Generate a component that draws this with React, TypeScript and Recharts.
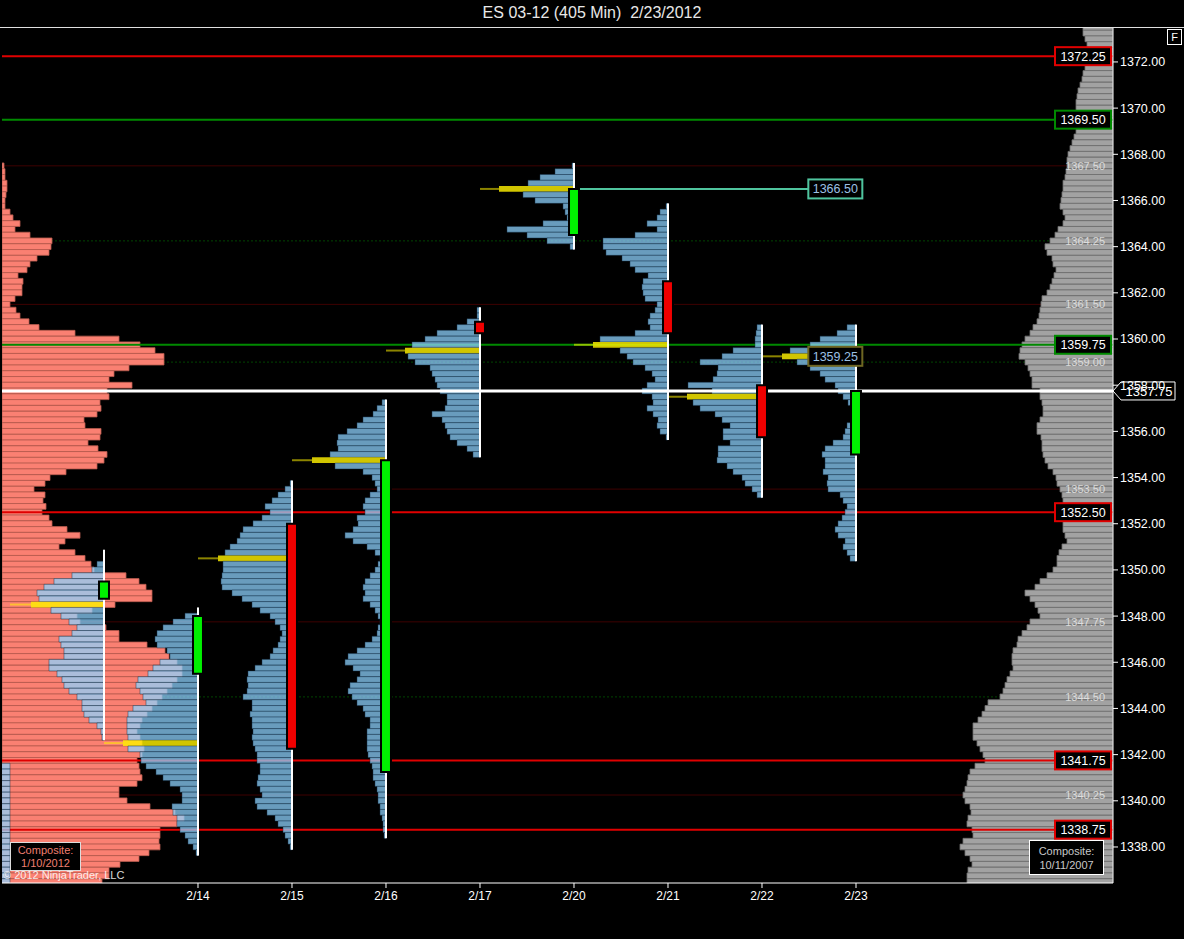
import React from "react";
import {
  ComposedChart,
  Line,
  XAxis,
  YAxis,
  ReferenceArea,
  ReferenceLine,
  ReferenceDot,
} from "recharts";

// ---- axes ----
const dayLabels = ["2/14", "2/15", "2/16", "2/17", "2/20", "2/21", "2/22", "2/23"];
const dayTicks = [0, 1, 2, 3, 4, 5, 6, 7];
const priceTicks = [1338, 1340, 1342, 1344, 1346, 1348, 1350, 1352, 1354, 1356, 1358, 1360, 1362, 1364, 1366, 1368, 1370, 1372];

const X_MIN = -2.085;
const X_MAX = 9.734;
const Y_MIN = 1336.44;
const Y_MAX = 1373.47;
const TICK = 0.25;
const HALF = TICK / 2;
const VOL_TO_DAY = 1 / 94;
const BODY_HALF = 0.053;
const LABEL_DAY = 6.78;

// ---- composites (volume per 0.25 tick, from top price down) ----
const salmonTop = 1367.5;
const salmonVol = [
  2, 3, 3, 5, 5, 4, 3, 3, 8, 11, 18, 13, 28, 50, 49, 47, 35, 28, 25, 16,
  21, 20, 20, 13, 8, 14, 18, 27, 37, 73, 117, 138, 153, 162, 162, 127, 112, 107, 130, 105,
  107, 98, 99, 95, 82, 83, 99, 98, 86, 96, 105, 102, 95, 64, 48, 43, 32, 43, 41, 44,
  40, 47, 50, 65, 78, 63, 57, 73, 83, 89, 92, 124, 137, 144, 150, 150, 113, 90, 75, 78,
  104, 117, 117, 145, 163, 167, 175, 180, 180, 175, 170, 165, 160, 155, 150, 145, 140, 138, 135, 138,
  140, 142, 140, 135, 137, 138, 140, 135, 117, 117, 125, 148, 173, 182, 175, 158, 158, 157, 158, 147,
  137, 118, 107, 107, 100,
];

const grayTop = 1373.5;
const grayVol = [
  30, 30, 28, 26, 26, 26, 26, 28, 30, 31, 33, 35, 36, 37, 37, 38, 38, 38, 37, 39,
  41, 43, 45, 46, 46, 47, 48, 50, 50, 51, 52, 53, 50, 48, 50, 55, 58, 63, 68, 66,
  61, 60, 57, 59, 61, 63, 66, 71, 72, 73, 74, 76, 80, 83, 88, 91, 93, 94, 88, 85,
  83, 81, 81, 73, 73, 71, 70, 70, 73, 76, 76, 72, 71, 71, 70, 68, 65, 60, 57, 56,
  53, 51, 50, 48, 49, 50, 50, 50, 48, 46, 51, 54, 56, 56, 60, 66, 73, 78, 88, 83,
  78, 75, 73, 83, 86, 91, 95, 96, 100, 101, 101, 100, 103, 106, 108, 110, 113, 125, 128, 131,
  135, 140, 140, 140, 136, 133, 130, 128, 138, 143, 145, 146, 148, 150, 148, 143, 142, 145, 146, 141,
  140, 150, 153, 148, 143, 141, 145, 146, 146,
];

// ---- day profiles ----
const profileDays = [-2, -1, 0, 1, 2, 3, 4, 5, 6, 7];
const profileTops = [1341.5, 1350.25, 1348.0, 1353.75, 1357.25, 1361.25, 1367.5, 1365.75, 1360.5, 1360.5];
const profilePocs = [null, 1348.5, 1342.5, 1350.5, 1354.75, 1359.5, 1366.5, 1359.75, 1357.5, 1359.25];

const vol0210 = [12, 16, 20, 24, 28, 30, 32, 34, 35, 36, 36, 35, 34, 33, 32, 31, 30, 29, 28, 27, 26];
const vol0213 = [7, 12, 32, 50, 60, 67, 65, 73, 53, 43, 35, 27, 32, 45, 43, 40, 40, 55, 55, 47, 42, 40, 35, 27, 22, 22, 20, 15, 7, 3, 2];
const vol0214 = [
  13, 25, 35, 41, 43, 41, 31, 28, 38, 45, 50, 60, 62, 58, 55, 52, 65, 70, 71, 71,
  71, 70, 75, 70, 58, 57, 52, 42, 35, 28, 18, 16, 16, 26, 25, 21, 21, 18, 13, 10, 5, 2,
];
const vol0215 = [
  2, 7, 14, 20, 27, 22, 30, 39, 49, 52, 55, 62, 67, 74, 69, 69, 70, 71, 70, 60,
  50, 40, 32, 22, 17, 12, 10, 12, 14, 19, 22, 30, 37, 44, 45, 44, 45, 49, 40, 40,
  42, 40, 40, 39, 40, 39, 37, 35, 35, 32, 32, 34, 35, 32, 30, 37, 35, 25, 17, 14,
  9, 7, 4, 2,
];
const vol0216 = [
  4, 9, 13, 23, 29, 39, 48, 49, 48, 56, 74, 51, 23, 14, 11, 9, 16, 21, 23, 21,
  29, 28, 33, 41, 33, 19, 11, 6, 8, 11, 16, 21, 23, 21, 23, 16, 11, 8, 6, 8,
  9, 14, 21, 29, 38, 41, 33, 26, 29, 36, 38, 34, 29, 23, 21, 16, 16, 19, 19, 19,
  19, 18, 16, 14, 13, 13, 11, 9, 8, 8, 6, 6, 4, 3, 3, 2,
];
const vol0217 = [3, 3, 13, 23, 43, 55, 68, 75, 72, 65, 50, 48, 45, 43, 40, 33, 33, 35, 48, 38, 35, 33, 30, 23, 13, 7];
const vol0220 = [2, 19, 34, 46, 75, 51, 39, 11, 9, 7, 31, 67, 47, 27, 4];
const vol0221 = [
  2, 8, 11, 21, 11, 33, 65, 65, 62, 46, 38, 33, 20, 25, 26, 25, 23, 11, 13, 18,
  20, 18, 33, 68, 75, 48, 41, 35, 23, 16, 13, 21, 26, 16, 15, 21, 15, 10, 11, 8, 2,
];
const vol0222 = [5, 6, 7, 7, 29, 40, 62, 44, 45, 49, 74, 50, 75, 69, 62, 47, 40, 32, 39, 39, 32, 44, 44, 45, 35, 29, 20, 17, 10, 5];
const vol0223 = [
  9, 19, 36, 46, 66, 74, 59, 46, 36, 31, 21, 18, 13, 8, 3, 2, 2, 9, 11, 13,
  23, 31, 34, 31, 31, 33, 28, 29, 28, 16, 13, 9, 11, 14, 18, 21, 18, 11, 13, 9, 6,
];
const profileVols = [vol0210, vol0213, vol0214, vol0215, vol0216, vol0217, vol0220, vol0221, vol0222, vol0223];

// ---- candles (2/13 .. 2/23) ----
const candleDays = [-1, 0, 1, 2, 3, 4, 5, 6, 7];
const candleOpen = [1348.75, 1345.5, 1352.0, 1341.25, 1360.75, 1364.5, 1362.5, 1358.0, 1355.0];
const candleClose = [1349.5, 1348.0, 1342.25, 1354.75, 1360.25, 1366.5, 1360.25, 1355.75, 1357.75];
const candleHigh = [1350.75, 1348.25, 1353.75, 1357.25, 1361.25, 1367.5, 1365.75, 1360.5, 1360.5];
const candleLow = [1342.75, 1337.75, 1338.0, 1338.5, 1355.0, 1364.0, 1355.75, 1353.25, 1350.5];

// ---- levels ----
const levelPrices = [1372.25, 1369.5, 1359.75, 1352.5, 1341.75, 1338.75];
const levelColors = ["#e00000", "#008a00", "#008a00", "#e00000", "#e00000", "#e00000"];
const faintPrices = [1367.5, 1364.25, 1361.5, 1359.0, 1353.5, 1347.75, 1344.5, 1340.25];
const faintKinds = ["r", "g", "r", "g", "r", "r", "g", "r"];
const lastPrice = 1357.75;
const nakedPocDay = 4;
const nakedPoc = 1366.5;
const openPoc = 1359.25;

const chartData = candleDays.map((d, i) => ({ x: d, close: candleClose[i] }));

const rowsOf = (top: number, vol: number[]) => vol.map((v, i) => ({ price: top - i * TICK, v }));

const boxLabel = (text: string, color: string) => (props: any) => {
  const vb = props.viewBox;
  const right = vb.x + vb.width;
  const cy = vb.y;
  return (
    <g>
      <rect x={right - 58} y={cy - 9} width={56} height={18} fill="#000" stroke={color} strokeWidth={2} />
      <text x={right - 30} y={cy} dy="0.36em" textAnchor="middle" fill="#fff" fontSize={12.5}>
        {text}
      </text>
    </g>
  );
};

const faintLabel = (text: string) => (props: any) => {
  const vb = props.viewBox;
  return (
    <text x={vb.x + vb.width - 8} y={vb.y} dy="0.36em" textAnchor="end" fill="#f2f2f2" fillOpacity={0.75} fontSize={11}>
      {text}
    </text>
  );
};

const arrowLabel = (text: string) => (props: any) => {
  const vb = props.viewBox;
  const r = vb.x + vb.width;
  const cy = vb.y;
  const pts = `${r},${cy} ${r + 8},${cy - 9} ${r + 62},${cy - 9} ${r + 62},${cy + 9} ${r + 8},${cy + 9}`;
  return (
    <g>
      <polygon points={pts} fill="#000" stroke="#fff" strokeWidth={1} />
      <text x={r + 36} y={cy} dy="0.36em" textAnchor="middle" fill="#fff" fontSize={13}>
        {text}
      </text>
    </g>
  );
};

const pocBox = (text: string, color: string) => (props: any) => {
  const { cx, cy } = props;
  return (
    <g>
      <rect x={cx - 27} y={cy - 9.5} width={54} height={19} fill="#000" stroke={color} strokeWidth={2} />
      <text x={cx} y={cy} dy="0.36em" textAnchor="middle" fill="#9cc0e4" fontSize={12.5}>
        {text}
      </text>
    </g>
  );
};

export default function App() {
  const fonts = "'Liberation Sans', Arial, sans-serif";
  return (
    <div style={{ position: "absolute", left: 0, top: 0, width: 1184, height: 939, background: "#000", fontFamily: fonts, overflow: "hidden" }}>
      <div style={{ position: "absolute", top: 4, left: 0, width: 1184, textAlign: "center", color: "#e8e8e8", fontSize: 16, fontFamily: "'Liberation Sans Narrow', 'Liberation Sans', sans-serif" }}>
        ES 03-12 (405 Min)&nbsp;&nbsp;2/23/2012
      </div>
      <div style={{ position: "absolute", top: 27, left: 0, width: 1184, height: 1, background: "#e0e0e0" }} />
      <ComposedChart
        width={1184}
        height={939}
        data={chartData}
        margin={{ top: 28, right: 0, bottom: 0, left: 2 }}
        style={{ position: "absolute", left: 0, top: 0 }}
      >
        <XAxis
          type="number"
          dataKey="x"
          domain={[X_MIN, X_MAX]}
          allowDataOverflow
          ticks={dayTicks}
          tickFormatter={(v: number) => dayLabels[v] ?? ""}
          height={56}
          tickSize={5}
          tickMargin={3}
          stroke="#fff"
          tick={{ fill: "#fff", fontSize: 12 }}
          interval={0}
        />
        <YAxis
          type="number"
          orientation="right"
          domain={[Y_MIN, Y_MAX]}
          allowDataOverflow
          ticks={priceTicks}
          tickFormatter={(v: number) => v.toFixed(2)}
          width={71}
          tickSize={5}
          tickMargin={2}
          stroke="#fff"
          tick={{ fill: "#fff", fontSize: 12.5, textAnchor: "start" }}
          interval={0}
        />

        {faintPrices.map((p, i) => (
          <ReferenceLine
            key={`f${i}`}
            y={p}
            stroke={faintKinds[i] === "r" ? "#3e0000" : "#004400"}
            strokeDasharray={faintKinds[i] === "r" ? undefined : "2 2"}
            strokeWidth={1}
            zIndex={0}
          />
        ))}

        {rowsOf(grayTop, grayVol).map((r, i) => (
          <ReferenceArea
            key={`g${i}`}
            x1={X_MAX - r.v * VOL_TO_DAY}
            x2={X_MAX}
            y1={r.price - HALF}
            y2={r.price + HALF}
            fill="#a2a2a2"
            fillOpacity={1}
            stroke="#6e6e6e"
            strokeWidth={0.8}
            ifOverflow="hidden"
            zIndex={1}
          />
        ))}
        {rowsOf(salmonTop, salmonVol).map((r, i) => (
          <ReferenceArea
            key={`s${i}`}
            x1={X_MIN}
            x2={X_MIN + r.v * VOL_TO_DAY}
            y1={r.price - HALF}
            y2={r.price + HALF}
            fill="#fa8072"
            fillOpacity={1}
            stroke="#b85a4e"
            strokeWidth={0.8}
            ifOverflow="hidden"
            zIndex={1}
          />
        ))}

        {faintPrices.map((p, i) => (
          <ReferenceLine key={`fl${i}`} y={p} stroke="none" label={faintLabel(p.toFixed(2))} zIndex={18} />
        ))}

        {levelPrices.map((p, i) => (
          <ReferenceLine key={`l${i}`} y={p} stroke={levelColors[i]} strokeWidth={2} label={boxLabel(p.toFixed(2), levelColors[i])} zIndex={5} />
        ))}
        <ReferenceLine
          segment={[{ x: nakedPocDay, y: nakedPoc }, { x: LABEL_DAY, y: nakedPoc }]}
          stroke="#4fc49e"
          strokeWidth={2}
          zIndex={5}
        />

        {profileDays.map((d, pi) =>
          rowsOf(profileTops[pi], profileVols[pi]).map((r, i) => {
            const isPoc = profilePocs[pi] === r.price;
            return (
              <ReferenceArea
                key={`p${pi}_${i}`}
                x1={d - r.v * VOL_TO_DAY}
                x2={d}
                y1={r.price - HALF}
                y2={r.price + HALF}
                fill={isPoc ? "#fff000" : "#8ed2ff"}
                fillOpacity={isPoc ? 0.82 : 0.74}
                stroke={isPoc ? "none" : "#16324c"}
                strokeOpacity={0.5}
                strokeWidth={0.9}
                ifOverflow="hidden"
                zIndex={10}
              />
            );
          })
        )}
        {profileDays.map((d, pi) => {
          const poc = profilePocs[pi];
          if (poc === null) return null;
          const vol = profileVols[pi][Math.round((profileTops[pi] - poc) / TICK)];
          return (
            <ReferenceLine
              key={`pt${pi}`}
              segment={[{ x: d - 1, y: poc }, { x: d - vol * VOL_TO_DAY, y: poc }]}
              stroke="#fff000"
              strokeOpacity={0.55}
              strokeWidth={2}
              ifOverflow="hidden"
              zIndex={10}
            />
          );
        })}

        <ReferenceLine y={lastPrice} stroke="#fff" strokeWidth={3} label={arrowLabel(lastPrice.toFixed(2))} zIndex={12} />

        {candleDays.map((d, i) => (
          <ReferenceLine
            key={`w${i}`}
            segment={[{ x: d, y: candleLow[i] - HALF }, { x: d, y: candleHigh[i] + HALF }]}
            stroke="#fff"
            strokeWidth={2}
            zIndex={14}
          />
        ))}
        {candleDays.map((d, i) => (
          <ReferenceArea
            key={`c${i}`}
            x1={d - BODY_HALF}
            x2={d + BODY_HALF}
            y1={Math.min(candleOpen[i], candleClose[i])}
            y2={Math.max(candleOpen[i], candleClose[i])}
            fill={candleClose[i] >= candleOpen[i] ? "#00f000" : "#f00000"}
            fillOpacity={1}
            stroke="#000"
            strokeWidth={2}
            zIndex={16}
          />
        ))}

        <ReferenceDot x={LABEL_DAY} y={nakedPoc} r={1} shape={pocBox(nakedPoc.toFixed(2), "#4fc49e")} zIndex={20} />
        <ReferenceDot x={LABEL_DAY} y={openPoc} r={1} shape={pocBox(openPoc.toFixed(2), "#6e6622")} zIndex={20} />

        <Line dataKey="close" stroke="none" dot={false} activeDot={false} isAnimationActive={false} legendType="none" />
      </ComposedChart>

      <div style={{ position: "absolute", left: 1167, top: 29, width: 13, height: 14, border: "1px solid #fff", color: "#fff", fontSize: 11, lineHeight: "14px", textAlign: "center" }}>F</div>
      <div style={{ position: "absolute", left: 10, top: 842, width: 71, height: 29, border: "1px solid #ddd", background: "#000", color: "#f07f70", fontSize: 11, lineHeight: "13px", textAlign: "center", paddingTop: 1, boxSizing: "border-box" }}>
        Composite:
        <br />
        1/10/2012
      </div>
      <div style={{ position: "absolute", left: 1029, top: 840, width: 75, height: 35, border: "1px solid #fff", background: "#000", color: "#c8c8c8", fontSize: 11, lineHeight: "14px", textAlign: "center", paddingTop: 3, boxSizing: "border-box" }}>
        Composite:
        <br />
        10/11/2007
      </div>
      <div style={{ position: "absolute", left: 3, top: 869, color: "#fff", opacity: 0.85, fontSize: 11 }}>© 2012 NinjaTrader, LLC</div>
    </div>
  );
}
